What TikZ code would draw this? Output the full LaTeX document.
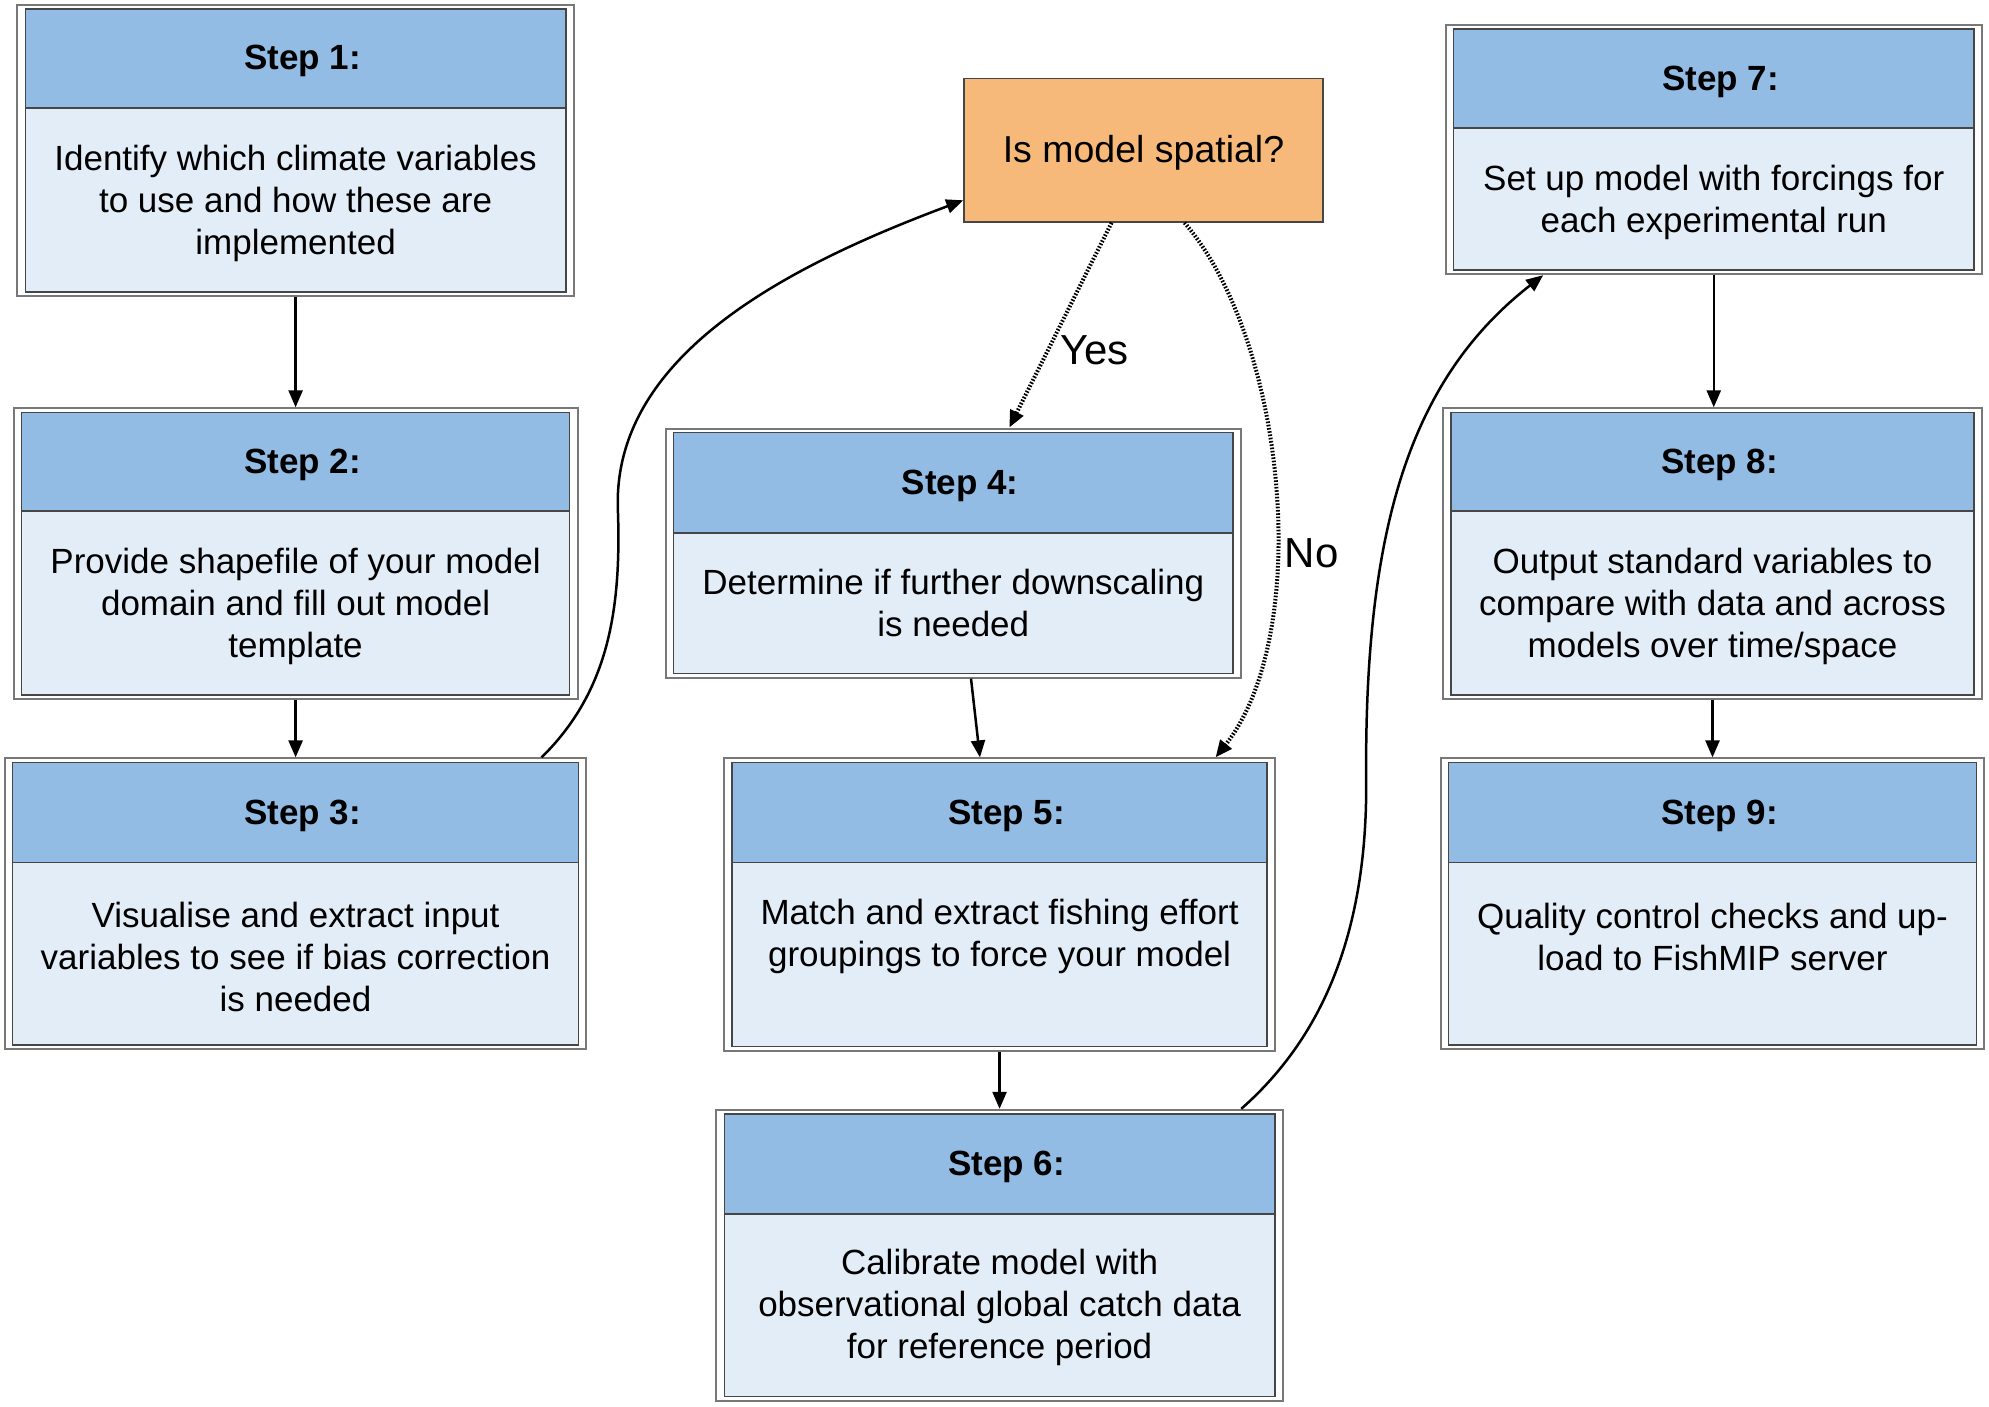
\documentclass[tikz,border=0pt]{standalone}
\usepackage{fontspec}
\setmainfont{Liberation Sans}
\usetikzlibrary{arrows.meta,calc}
\definecolor{headblue}{RGB}{146,188,228}
\definecolor{bodyblue}{RGB}{227,237,248}
\definecolor{decorange}{RGB}{246,185,122}
\definecolor{innergray}{RGB}{70,70,70}
\definecolor{outergray}{RGB}{120,120,120}
\tikzset{
 outerbox/.style={draw=outergray, line width=2pt, inner sep=0pt, rectangle},
 innerline/.style={draw=innergray, line width=1.5pt},
 titletext/.style={font=\fontsize{35}{42}\selectfont\bfseries, inner sep=0pt},
 bodytext/.style={font=\fontsize{35}{42}\selectfont, align=center, inner sep=0pt},
 conn/.style={line width=2.5pt, -{Triangle[length=17pt,width=14pt]}},
 dotconn/.style={conn, line width=4pt, dash pattern=on 1.6pt off 1.7pt},
 lbl/.style={font=\fontsize{42}{50}\selectfont, inner sep=0pt},
}
% #1 name, #2 x1, #3 y1, #4 x2, #5 y2 (inner box), #6 header bottom, #7 title, #8 body y, #9 body
\newcommand{\fstep}[9]{%
  \node[outerbox, minimum width={(#4)-(#2)+16}, minimum height={(#5)-(#3)+8}] (#1) at ({((#2)+(#4))/2},{((#3)+(#5))/2}) {};
  \fill[headblue] (#2,#3) rectangle (#4,#6);
  \fill[bodyblue] (#2,#6) rectangle (#4,#5);
  \draw[innerline] (#2,#3) rectangle (#4,#5);
  \draw[innerline] (#2,#6) -- (#4,#6);
  \node[titletext] (#1t) at ({((#2)+(#4))/2+7},{((#3)+(#6))/2+3}) {#7};
  \node[bodytext] (#1b) at ({((#2)+(#4))/2},{(#8)+3.5}) {#9};
}
\begin{document}
\begin{tikzpicture}[x=1pt,y=-1pt]
\useasboundingbox (0,0) rectangle (1989,1406);
\fill[white] (0,0) rectangle (1989,1406);

\fstep{s1}{25.4}{8.9}{565.8}{291.8}{107.8}{Step 1:}{199.5}{Identify which climate variables\\to use and how these are\\implemented}
\fstep{s2}{21.6}{412.3}{569.6}{695.1}{511.2}{Step 2:}{602.6}{Provide shapefile of your model\\domain and fill out model\\template}
\fstep{s3}{12.7}{762.4}{578.4}{1045.2}{862.6}{Step 3:}{953.9}{Visualise and extract input\\variables to see if bias correction\\is needed}
\fstep{s4}{673.6}{432.6}{1233}{673.6}{532.8}{Step 4:}{599.5}{Determine if further downscaling\\is needed}
\fstep{s5}{731.9}{762.4}{1267.2}{1046.5}{862.6}{Step 5:}{933}{Match and extract fishing effort\\groupings to force your model}
\fstep{s6}{724.3}{1113.8}{1274.8}{1396.6}{1214}{Step 6:}{1304}{Calibrate model with\\observational global catch data\\for reference period}
\fstep{s7}{1453.7}{29.2}{1973.8}{270.2}{128.1}{Step 7:}{198.5}{Set up model with forcings for\\each experimental run}
\fstep{s8}{1451.2}{412.3}{1973.8}{695.1}{511.2}{Step 8:}{602.6}{Output standard variables to\\compare with data and across\\models over time/space}
\fstep{s9}{1448.6}{762.4}{1976.3}{1045.2}{862.6}{Step 9:}{933}{Quality control checks and up-\\load to FishMIP server}

\node[draw=innergray, line width=1.5pt, fill=decorange, minimum width=359, minimum height=143.4, inner sep=0pt] (dec) at (1143.5,150.3) {};
\node[font=\fontsize{37.5}{44}\selectfont, inner sep=0pt] (dect) at (1143.5,152.8) {Is model spatial?};

% connectors
\draw[conn] (s1.south) -- (s1.south |- s2.north);
\draw[conn] (s2.south) -- (s2.south |- s3.north);
\coordinate (c3a) at (617.8,507.4);
\draw[conn] ([xshift=246pt]s3.north) .. controls (608.9,691.3) and (621.6,608.9) .. (c3a)
  .. controls (614,355.2) and (786.5,266.4) .. ([yshift=-50pt]dec.west);
\draw[dotconn] ([xshift=-32pt]dec.south) -- ([xshift=56pt]s4.north);
\draw[dotconn] ([xshift=41pt]dec.south) .. controls (1287.5,342.5) and (1312.9,634.3) .. ([xshift=216pt]s5.north);
\draw[conn] ([xshift=17.7pt]s4.south) -- ([xshift=-19.6pt]s5.north);
\draw[conn] (s5.south) -- (s5.south |- s6.north);
\coordinate (c6a) at (1366.2,786.5);
\draw[conn] ([xshift=241.7pt]s6.north) .. controls (1319.2,1040.2) and (1366.2,938.7) .. (c6a)
  .. controls (1363.6,532.8) and (1408,380.6) .. ([xshift=-170.6pt]s7.south);
\draw[conn] (s7.south) -- (s7.south |- s8.north);
\draw[conn] (s8.south) -- (s8.south |- s9.north);

\node[lbl] (yes) at (1094.7,350) {Yes};
\node[lbl] (no) at (1311.6,553) {No};
\end{tikzpicture}
\end{document}
